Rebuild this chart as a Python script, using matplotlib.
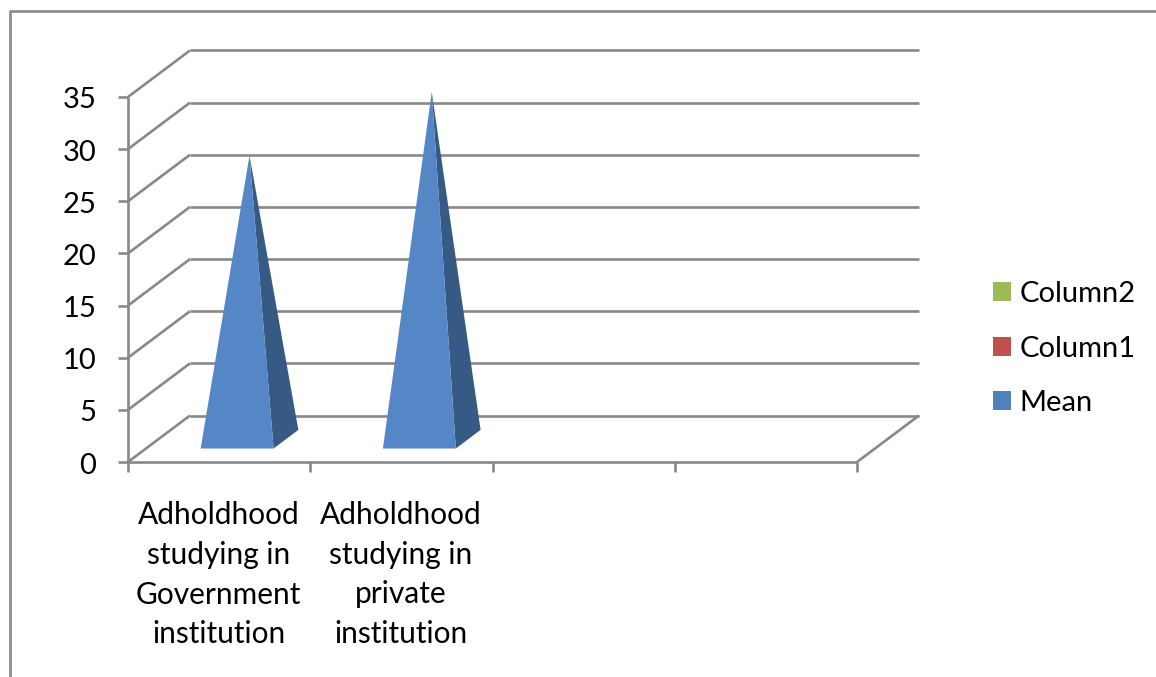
import matplotlib
matplotlib.use("Agg")
import matplotlib.pyplot as plt
from matplotlib.patches import Patch, Polygon

plt.rcParams["font.family"] = ["Lato", "DejaVu Sans"]

categories = ["Adholdhood\nstudying in\nGovernment\ninstitution",
              "Adholdhood\nstudying in\nprivate\ninstitution", "", ""]
mean_values = [27.2, 33.3]
y_ticks = [0, 5, 10, 15, 20, 25, 30, 35]
legend_labels = ["Column2", "Column1", "Mean"]
legend_colors = ["#9BBB59", "#C0504D", "#4F81BD"]

FRONT_FACE = "#5586C6"
SIDE_FACE = "#375A85"
GRID = "#888888"
FRAME = "#8E8E8E"
FONT_SIZE = 21.5
TICK_FONT_SIZE = 21.0

# Oblique projection of (category, value, depth) onto the canvas
ORIGIN_X, ORIGIN_Y = 128.0, 462.0
CAT_W, VAL_H = 182.25, 10.43
DEPTH_X, DEPTH_Y = 62.0, -46.5


def project(cat, val, depth=0.0):
    return (ORIGIN_X + CAT_W * cat + DEPTH_X * depth,
            ORIGIN_Y - VAL_H * val + DEPTH_Y * depth)


def segment(ax, a, b, lw=1.9, color=GRID, z=2):
    ax.plot([a[0], b[0]], [a[1], b[1]], color=color, lw=lw, zorder=z,
            solid_capstyle="butt")


fig = plt.figure(figsize=(11.56, 6.77), dpi=100)
ax = fig.add_axes([0, 0, 1, 1])
ax.set_xlim(0, 1156)
ax.set_ylim(677, 0)
ax.axis("off")

# Outer chart frame, cut off along the top and left sides only
ax.plot([10, 10, 1156], [677, 11, 11], color=FRAME, lw=2.0, zorder=1)

n_cat = len(categories)
top = y_ticks[-1]

# Back-wall gridlines and the side-wall diagonals
for v in y_ticks:
    segment(ax, project(0, v, 0), project(0, v, 1))
    segment(ax, project(0, v, 1), project(n_cat, v, 1))
    tick_start = project(0, v)
    segment(ax, (tick_start[0] - 10, tick_start[1]), tick_start)
    ax.text(tick_start[0] - 31.5, tick_start[1] + 3.5, str(v), ha="right",
            va="center", fontsize=TICK_FONT_SIZE, color="black")

# Front axes and floor edge
segment(ax, project(0, 0), project(0, top))
segment(ax, project(0, 0), project(n_cat, 0))
segment(ax, project(n_cat, 0, 0), project(n_cat, 0, 1))

# Category ticks and labels
for i in range(n_cat + 1):
    p = project(i, 0)
    segment(ax, p, (p[0], p[1] + 10))
for i, label in enumerate(categories):
    p = project(i + 0.5, 0)
    ax.text(p[0] - 0.5, p[1] + 39.5, label, ha="center", va="top", fontsize=FONT_SIZE,
            linespacing=1.5, color="black")

# Square pyramids, one per category with a value
HALF_W, DEPTH_NEAR, DEPTH_FAR = 0.2, 0.29, 0.69
for i, v in enumerate(mean_values):
    c = i + 0.5
    apex = project(c, v, (DEPTH_NEAR + DEPTH_FAR) / 2)
    near_l = project(c - HALF_W, 0, DEPTH_NEAR)
    near_r = project(c + HALF_W, 0, DEPTH_NEAR)
    far_r = project(c + HALF_W, 0, DEPTH_FAR)
    ax.add_patch(Polygon([near_r, far_r, apex], closed=True, fc=SIDE_FACE,
                         ec="none", zorder=3))
    ax.add_patch(Polygon([near_l, near_r, apex], closed=True, fc=FRONT_FACE,
                         ec="none", zorder=4))

handles = [Patch(fc=c, ec="none", label=l)
           for c, l in zip(legend_colors, legend_labels)]
ax.legend(handles=handles, loc="center left", bbox_to_anchor=(993 / 1156, 1 - 348.5 / 677),
          bbox_transform=ax.transAxes, frameon=False, fontsize=TICK_FONT_SIZE,
          handlelength=0.62, handleheight=0.62, handletextpad=0.28,
          labelspacing=0.97, borderaxespad=0, borderpad=0)

fig.savefig("out.png", dpi=100)
